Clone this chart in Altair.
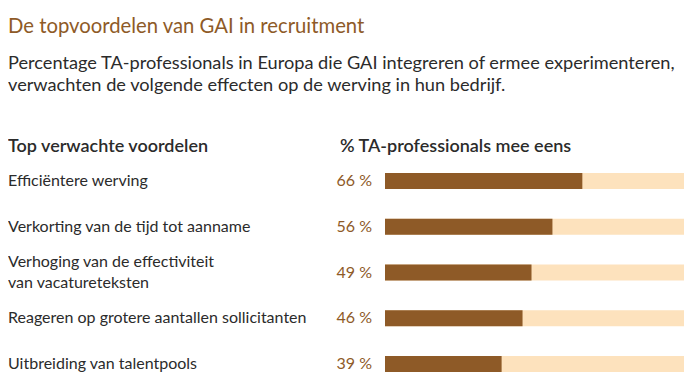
import altair as alt
import pandas as pd

# ---- data ----
categories = [
    "Efficiëntere werving",
    "Verkorting van de tijd tot aanname",
    "Verhoging van de effectiviteit\nvan vacatureteksten",
    "Reageren op grotere aantallen sollicitanten",
    "Uitbreiding van talentpools",
]
values = [66, 56, 49, 46, 39]
full = [100, 100, 100, 100, 100]

title_text = "De topvoordelen van GAI in recruitment"
subtitle_lines = [
    "Percentage TA-professionals in Europa die GAI integreren of ermee experimenteren,",
    "verwachten de volgende effecten op de werving in hun bedrijf.",
]
header_left = "Top verwachte voordelen"
header_right = "% TA-professionals mee eens"

FONT = "Lato"
BROWN = "#8E5A27"
LIGHT = "#FDE2BD"
DARK = "#2B2B2B"

df = pd.DataFrame({"cat": categories, "value": values, "full": full})
df["lines"] = [c.count("\n") + 1 for c in categories]

xs = alt.Scale(domain=[0, 100], range=[377, 676], nice=False, zero=True)
ys = alt.Scale(domain=categories, range=[150, 379], paddingInner=0, paddingOuter=0)
Y = alt.Y("cat:N", scale=ys, sort=None, axis=None)

base = alt.Chart(df)

bg = base.mark_bar(color=LIGHT, size=16).encode(
    x=alt.X("full:Q", scale=xs, axis=None), y=Y,
)
fg = base.mark_bar(color=BROWN, size=16).encode(
    x=alt.X("value:Q", scale=xs, axis=None), y=Y,
)
pct = base.transform_calculate(lab="datum.value + ' %'").mark_text(
    align="right", baseline="middle", font=FONT, fontSize=16, color=BROWN
).encode(x=alt.value(364), y=Y, text="lab:N")

cat_single = base.transform_filter("datum.lines == 1").mark_text(
    align="left", baseline="middle", font=FONT, fontSize=16, color=DARK,
).encode(x=alt.value(0), y=Y, text="cat:N")
cat_multi = base.transform_filter("datum.lines > 1").mark_text(
    align="left", baseline="middle", font=FONT, fontSize=16, color=DARK,
    lineBreak="\n", lineHeight=21, dy=-10.5,
).encode(x=alt.value(0), y=Y, text="cat:N")

one = alt.Data(values=[{}])


def label(text, x, y, size, color, weight="normal"):
    return alt.Chart(one).mark_text(
        align="left", baseline="alphabetic", font=FONT, fontSize=size,
        color=color, fontWeight=weight,
    ).encode(x=alt.value(x), y=alt.value(y), text=alt.value(text))


title = label(title_text, 0, 25, 20.3, BROWN)
sub1 = label(subtitle_lines[0], 0, 61, 18.2, DARK)
sub2 = label(subtitle_lines[1], 0, 83, 18.2, DARK)
h1 = label(header_left, 0, 144, 18, DARK, 600)
h2 = label(header_right, 332, 144, 18, DARK, 600)

chart = alt.layer(bg, fg, pct, cat_single, cat_multi, title, sub1, sub2, h1, h2).properties(
    width=680, height=367,
    autosize=alt.AutoSizeParams(type="none"),
    padding=0,
).configure_view(stroke=None)

chart.save("out.html", embed_options={"renderer": "svg", "actions": False})
